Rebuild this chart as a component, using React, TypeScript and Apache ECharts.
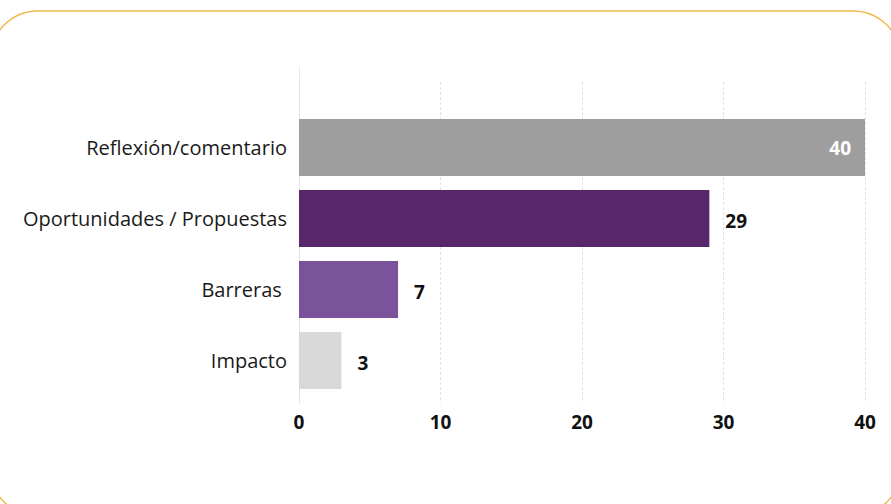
import React, { useEffect, useRef } from "react";
import * as echarts from "echarts";

const categories = ["Reflexión/comentario", "Oportunidades / Propuestas", "Barreras ", "Impacto"];
const values = [40, 29, 7, 3];
const colors = ["#9e9e9e", "#58266b", "#7b539b", "#d9d9d9"];
const xTicks = [0, 10, 20, 30, 40];

const FONT = "'Open Sans', 'Noto Sans', sans-serif";

export default function App() {
  const ref = useRef<HTMLDivElement>(null);
  useEffect(() => {
    const chart = echarts.init(ref.current!, null, { renderer: "svg" });
    const xMin = xTicks[0];
    const xMax = xTicks[xTicks.length - 1];
    const interval = xTicks[1] - xTicks[0];
    chart.setOption({
      animation: false,
      backgroundColor: "#ffffff",
      textStyle: { fontFamily: FONT },
      graphic: [
        {
          type: "rect",
          shape: { x: -10, y: 11, width: 911, height: 505, r: 48 },
          style: { fill: "none", stroke: "#f0b94a", lineWidth: 1.5 },
          silent: true,
          z: 100,
        },
      ],
      grid: [
        { left: 299, right: 26, top: 112, height: 284, containLabel: false },
        { left: 299, right: 26, top: 82, bottom: 101, containLabel: false },
        { left: 299, right: 26, top: 67, bottom: 101, containLabel: false },
      ],
      xAxis: [
        {
          type: "value", gridIndex: 0, min: xMin, max: xMax, interval,
          show: false, splitLine: { show: false },
        },
        {
          type: "value", gridIndex: 1, min: xMin, max: xMax, interval,
          axisLine: { show: false }, axisTick: { show: false },
          splitLine: { show: true, lineStyle: { color: "#e3e3e3", type: [3, 2], width: 1 } },
          axisLabel: {
            margin: 9, color: "#111", fontSize: 19, fontWeight: "bold", fontFamily: FONT,
            formatter: (v: number) => (xTicks.includes(v) ? String(v) : ""),
          },
        },
        { type: "value", gridIndex: 2, min: xMin, max: xMax, show: false },
      ],
      yAxis: [
        {
          type: "category", gridIndex: 0, data: categories, inverse: true,
          axisLine: { show: false }, axisTick: { show: false },
          axisLabel: { margin: 12, color: "#1a1a1a", fontSize: 20, fontFamily: FONT },
        },
        { type: "value", gridIndex: 1, show: false },
        {
          type: "value", gridIndex: 2, show: true,
          axisLine: { show: true, lineStyle: { color: "#e3e3e3", type: [3, 2], width: 1 } },
          axisTick: { show: false }, axisLabel: { show: false }, splitLine: { show: false },
        },
      ],
      series: [
        {
          type: "bar",
          xAxisIndex: 0,
          yAxisIndex: 0,
          barCategoryGap: "20%",
          z: 3,
          data: values.map((v, i) => ({
            value: v,
            itemStyle: { color: colors[i] },
            label: i === 0
              ? { show: true, position: "insideRight", distance: 14, color: "#ffffff", fontSize: 19, fontWeight: "bold", fontFamily: FONT }
              : { show: true, position: "right", distance: 16, color: "#111", fontSize: 19, fontWeight: "bold", fontFamily: FONT, offset: [0, 2] },
          })),
        },
      ],
    });
    return () => chart.dispose();
  }, []);
  return (
    <div
      ref={ref}
      style={{ position: "fixed", left: 0, top: 0, width: 891, height: 504 }}
    />
  );
}
